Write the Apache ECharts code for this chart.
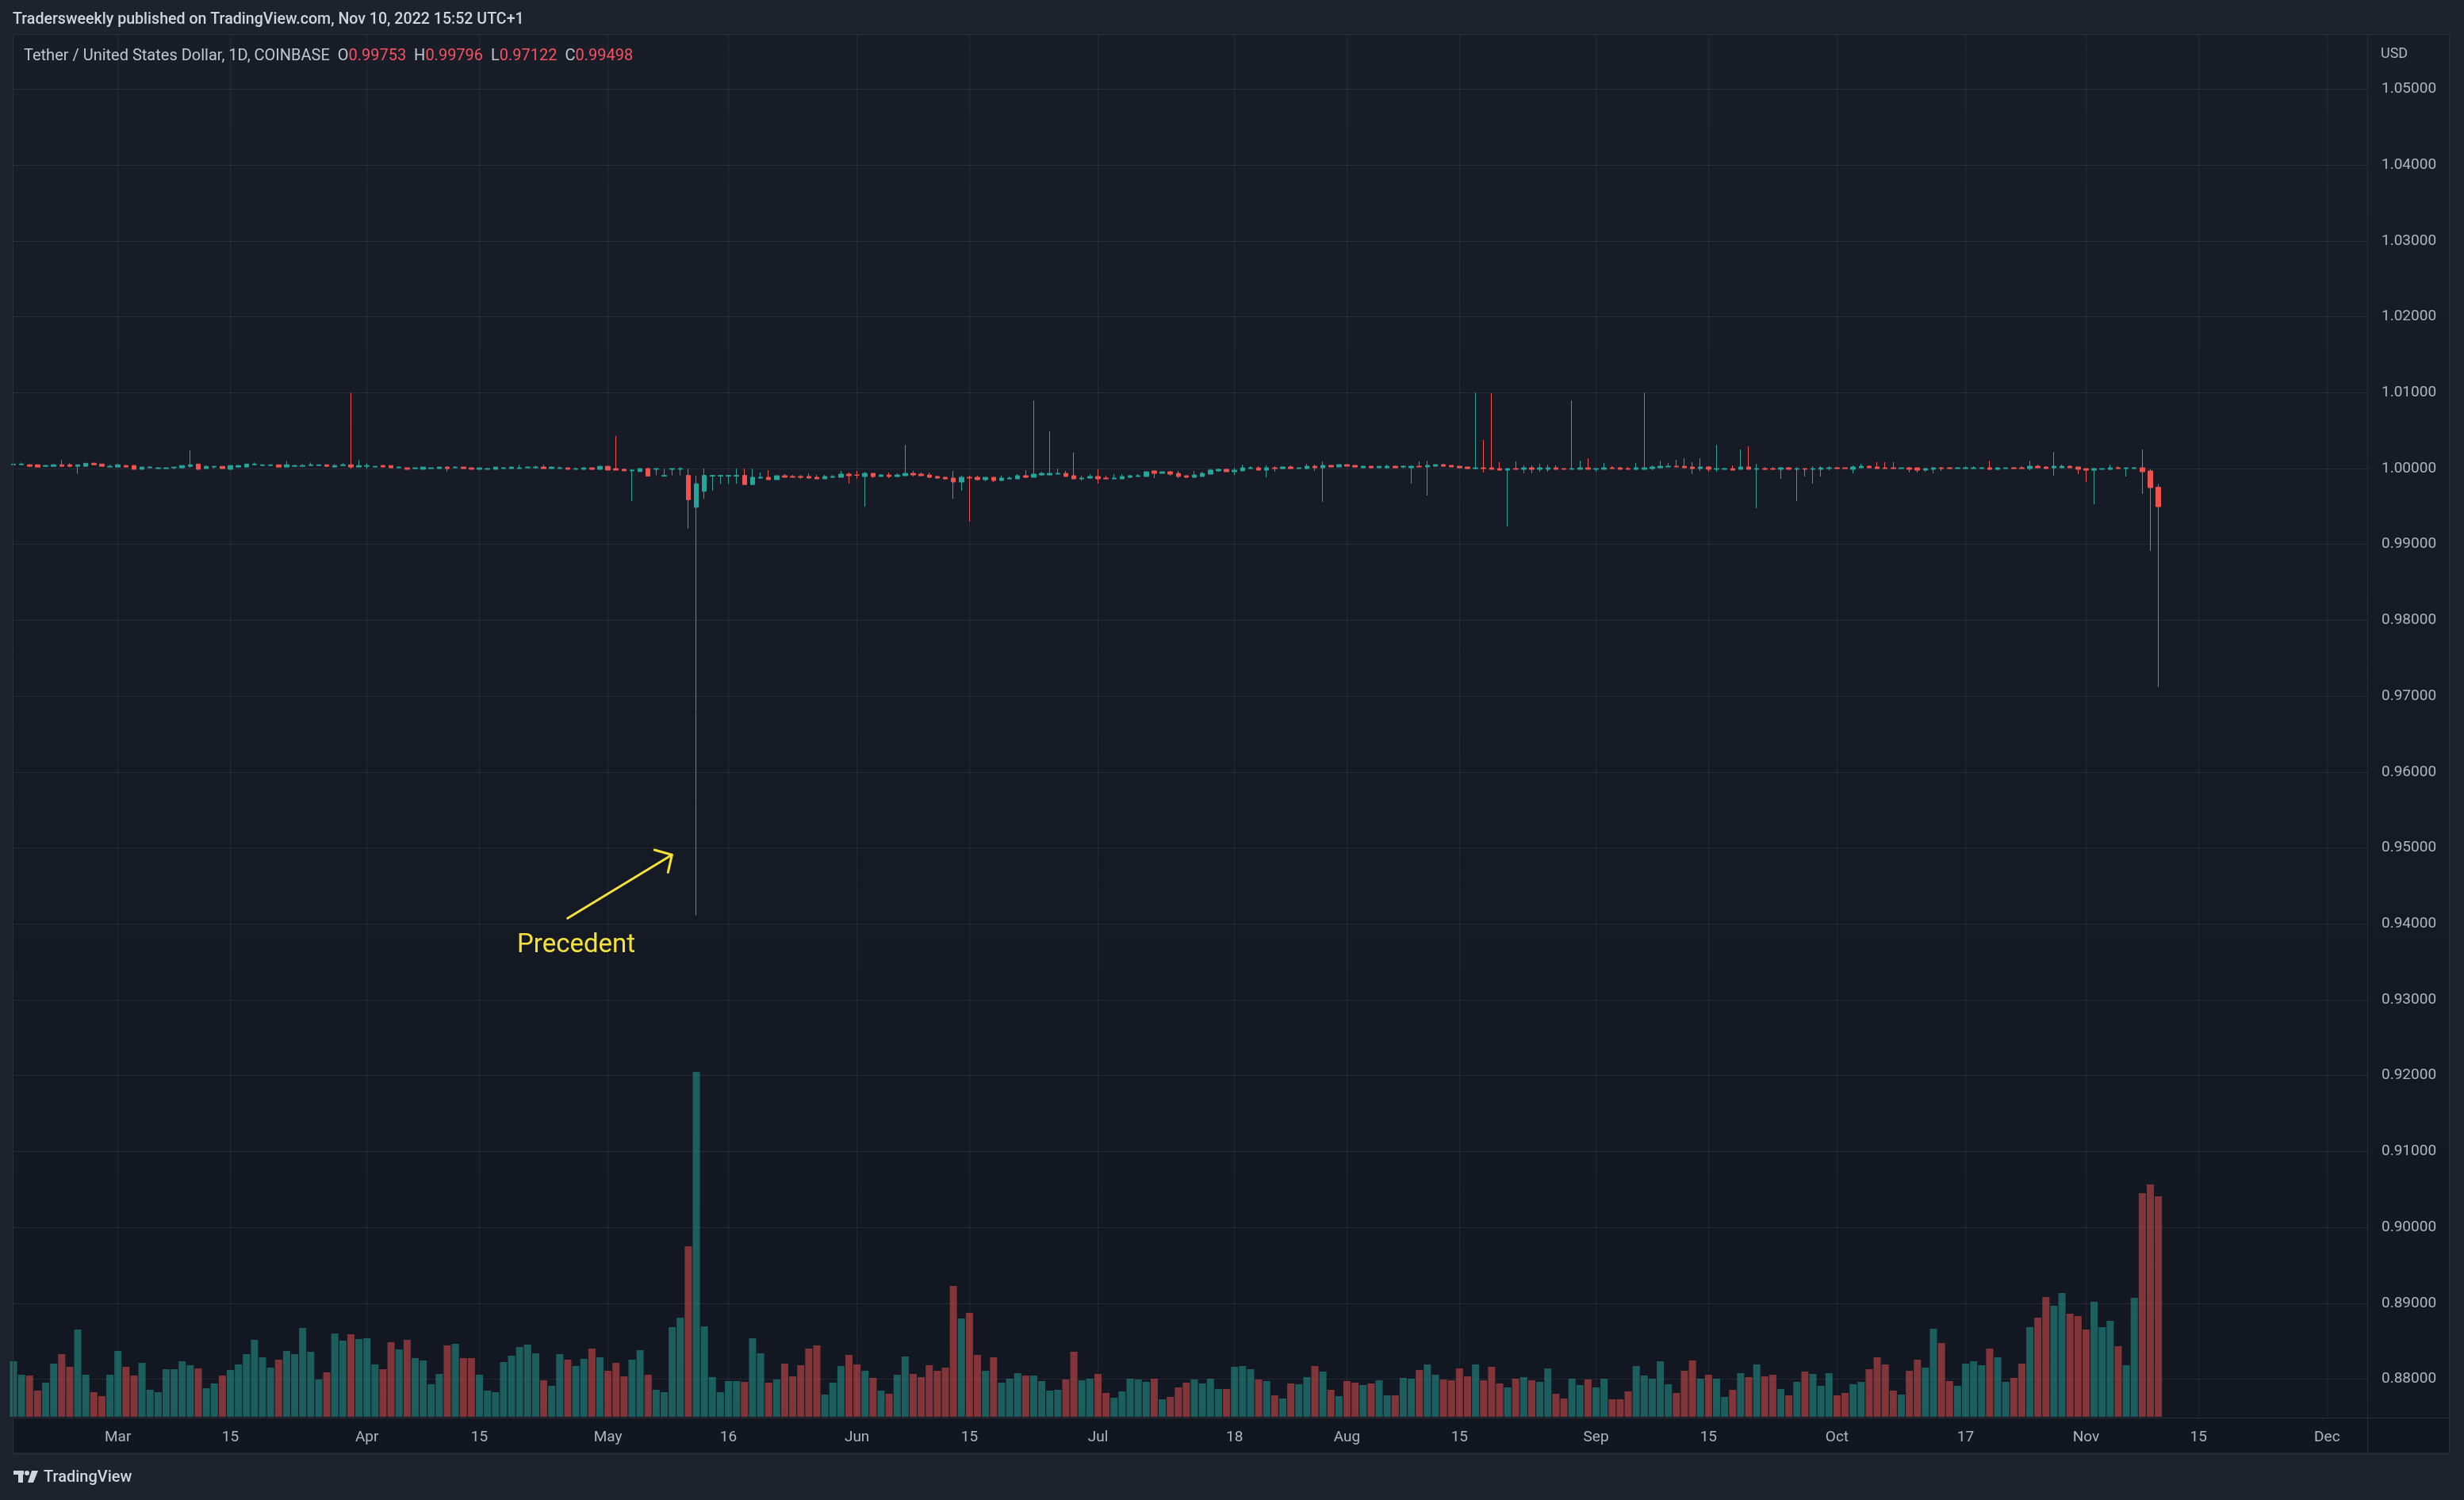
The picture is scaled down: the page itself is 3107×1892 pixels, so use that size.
<!DOCTYPE html>
<html><head><meta charset="utf-8">
<script src="https://cdn.jsdelivr.net/npm/echarts@6/dist/echarts.min.js"></script>
<style>html,body{margin:0;padding:0;background:#1e222d;overflow:hidden}#c{width:3107px;height:1892px}</style>
</head><body><div id="c"></div>
<script>
// ---------- DATA (USDT/USD, 1D, Coinbase, Feb 16 – Nov 10 2022) ----------
const firstDay = '2022-02-16';
const axisDays = 294; // axis runs to Dec 6 (empty right margin)

const open = [
 1.0005,1.0005,1.0005,1.0005,1.0003,1.0003,1.0005,1.0005,1.0003,1.0003,1.0007,1.0006,1.0002,
 1.0002,1.0004,1.0004,0.9999,1.0001,1.0000,1.0000,1.0001,1.0001,1.0003,1.0006,1.0000,1.0002,1.0003,0.9999,1.0002,1.0002,1.0005,1.0004,1.0004,1.0005,1.0002,1.0003,1.0003,1.0004,1.0004,1.0005,1.0002,1.0004,1.0005,1.0002,
 1.0003,1.0002,1.0004,1.0004,1.0001,1.0001,1.0000,0.9999,1.0000,1.0000,1.0002,1.0001,1.0002,1.0001,0.9999,0.9999,0.9999,1.0000,1.0000,1.0000,1.0001,1.0001,1.0002,1.0000,1.0000,1.0001,0.9999,0.9999,1.0001,0.9999,
 1.0003,1.0000,0.9999,0.9997,0.9996,1.0000,0.9999,0.9990,0.9999,0.9999,0.9991,0.9949,0.9970,0.9990,0.9990,0.9990,0.9990,0.9991,0.9979,0.99875,0.99885,0.99854,0.99906,0.99896,0.99896,0.99896,0.99885,0.99864,0.99885,0.99885,0.99927,
 0.99916,0.99896,0.99937,0.99896,0.99916,0.99896,0.99906,0.99937,0.99927,0.99916,0.99896,0.99885,0.99875,0.99823,0.99885,0.99885,0.99854,0.99885,0.99843,0.99864,0.99864,0.99906,0.99885,0.99916,0.99916,0.99927,0.99937,0.99906,0.99864,0.99875,
 0.99896,0.99875,0.99864,0.99864,0.99885,0.99896,0.99896,0.99969,0.99937,0.99958,0.99937,0.99906,0.99885,0.99896,0.99927,0.99969,0.9999,0.99958,0.99969,1.0000,1.0001,0.99979,1.0001,1.0000,1.00021,1.0000,1.0000,1.00031,1.0001,1.00042,1.00021,
 1.00052,1.00042,1.0001,1.00031,1.0001,1.0001,1.00031,1.00021,1.0001,1.00031,1.00021,1.00031,1.00052,1.00042,1.00031,1.00021,1.0000,1.0001,1.0001,1.0000,0.99979,1.0000,0.9999,1.0001,0.9999,0.9999,1.0001,1.0000,0.9999,0.9999,1.0001,
 0.9999,0.9999,1.0001,1.0001,1.0000,0.9999,0.9999,1.0000,1.0001,1.00021,1.00031,1.00031,1.00021,1.0000,1.00021,0.9999,0.9999,1.0000,0.9999,1.00021,0.9999,1.0000,1.0000,0.9999,1.0001,0.9999,1.0000,0.9999,0.9999,1.0000,
 1.0001,1.0001,0.9999,1.0001,1.00031,1.00021,1.0001,1.0001,1.0000,1.0001,1.0001,0.99979,0.9999,1.0001,1.0001,1.0000,1.0000,1.0000,1.0000,1.0001,0.9999,1.0000,1.0001,1.0001,1.0000,1.00031,1.00021,1.0001,1.0001,1.00031,1.00021,
 1.0000,0.99979,0.9999,0.9999,1.0001,1.0000,1.0000,1.0001,0.99969,0.99753
];
const high = [
 1.0006,1.0008,1.0006,1.0005,1.0005,1.0006,1.0011,1.0007,1.0005,1.0007,1.0008,1.0006,1.0005,
 1.0006,1.0005,1.0005,1.0002,1.0003,1.0002,1.0001,1.0002,1.0004,1.0024,1.0006,1.0004,1.0003,1.0003,1.0004,1.0005,1.0006,1.0008,1.0005,1.0005,1.0005,1.0010,1.0005,1.0006,1.0008,1.0005,1.0005,1.0006,1.0007,1.0100,1.0011,
 1.0007,1.0003,1.0005,1.0004,1.0003,1.0001,1.0001,1.0002,1.0001,1.0002,1.0003,1.0003,1.0002,1.0001,1.0001,1.0001,1.0002,1.0002,1.0002,1.0005,1.0003,1.0004,1.0005,1.0003,1.0003,1.0001,1.0001,1.0001,1.0001,1.0004,
 1.0004,1.0043,1.0000,0.9999,1.0000,1.0001,1.0000,1.0000,1.0000,1.0002,1.0000,0.9991,1.0000,0.9991,0.9991,0.9991,1.0000,1.0000,1.0000,0.99948,0.99979,0.99906,0.99927,0.99916,0.99916,0.99937,0.99916,0.99916,0.99916,0.99969,0.99948,
 0.99969,0.99958,0.99937,0.99927,0.99948,0.99937,1.00313,0.99969,0.99948,0.99948,0.99906,0.99896,0.99969,0.99906,0.99906,0.99906,0.99885,0.99885,0.99906,0.99896,0.99927,0.99979,1.00898,0.99958,1.00491,1.0000,0.99969,1.00209,0.99906,0.99927,
 0.9999,0.99906,0.99927,0.99927,0.99916,0.99927,0.99958,0.99969,0.99958,0.99969,0.99969,0.99906,0.99969,0.99958,1.0000,1.0000,1.0000,1.0001,1.00052,1.00031,1.00031,1.00042,1.00031,1.00031,1.00042,1.0001,1.00063,1.00052,1.00094,1.00042,1.00052,
 1.00052,1.00042,1.00042,1.00031,1.00031,1.00052,1.00042,1.00042,1.00042,1.00094,1.00104,1.00052,1.00063,1.00042,1.00031,1.00021,1.01002,1.00376,1.00992,1.00084,1.0000,1.00094,1.00042,1.00042,1.00063,1.00052,1.00042,1.0000,1.00898,1.00104,1.00136,
 1.0000,1.00073,1.00031,1.00021,1.00021,1.00073,1.01002,1.00042,1.00104,1.00073,1.00115,1.00136,1.00084,1.00136,1.00031,1.00313,1.0001,1.00042,1.00251,1.00292,1.00063,1.00021,1.00021,1.00021,1.00021,1.00021,1.0000,1.00031,1.00031,1.00031,
 1.00021,1.0001,1.00042,1.00063,1.00042,1.00084,1.00084,1.00084,1.0001,1.00021,1.0001,1.0001,1.00021,1.00021,1.00021,1.00021,1.00031,1.00031,1.00021,1.00104,1.00021,1.0001,1.00021,1.00031,1.00104,1.00052,1.00031,1.00219,1.00052,1.00042,1.00021,
 1.0000,1.0001,1.0000,1.00052,1.00031,1.0001,1.00021,1.00251,0.9999,0.99796
];
const low = [
 1.0005,1.0005,1.0002,1.0002,1.0002,1.0003,1.0003,1.0002,0.9993,1.0003,1.0005,1.0003,1.0002,
 1.0002,1.0002,0.9999,0.9999,1.0001,1.0000,1.0000,0.9999,1.0001,1.0001,0.9999,1.0000,1.0000,1.0000,0.9999,1.0001,1.0002,1.0004,1.0004,1.0004,1.0002,1.0002,1.0002,1.0003,1.0004,1.0004,1.0002,1.0002,1.0003,1.0000,1.0002,
 1.0000,1.0002,1.0002,1.0001,1.0001,0.9999,0.9999,0.9999,1.0000,1.0000,0.9996,1.0001,1.0000,0.9999,0.9999,0.9999,0.9999,1.0000,1.0000,1.0000,1.0001,1.0000,1.0000,1.0000,1.0000,0.9999,0.9999,0.9999,0.9998,0.9999,
 0.9998,0.9998,0.9997,0.99575,0.9996,0.9990,0.9991,0.9990,0.9991,0.9991,0.9921,0.9411,0.9960,0.9971,0.9980,0.9980,0.9980,0.9979,0.9979,0.99864,0.99854,0.99854,0.99885,0.99885,0.99864,0.99864,0.99864,0.99864,0.99875,0.99885,0.99802,
 0.99864,0.99499,0.99875,0.99896,0.99875,0.99885,0.99906,0.99896,0.99906,0.99875,0.99864,0.99854,0.99603,0.99708,0.993,0.99843,0.99833,0.99823,0.99833,0.99864,0.99864,0.99875,0.99885,0.99906,0.99916,0.99927,0.99896,0.99864,0.99843,0.99864,
 0.99802,0.99864,0.99864,0.99864,0.99875,0.99896,0.99896,0.99875,0.99937,0.99906,0.99875,0.99875,0.99875,0.99896,0.99927,0.99958,0.99958,0.99916,0.99969,1.0000,0.99979,0.99885,0.99958,0.9999,1.0000,1.0000,0.9999,0.99969,0.99562,1.00021,1.00021,
 1.00031,1.0001,1.0001,1.0000,1.0001,1.0000,1.0001,1.0000,0.99802,1.00021,0.99645,1.00031,1.00031,1.00021,1.0001,0.9999,0.9999,0.99948,0.9999,0.99979,0.99238,0.9999,0.99937,0.99937,0.99958,0.99958,0.9999,0.9999,0.9999,0.9999,0.9999,
 0.99958,0.9999,1.0000,0.9999,0.9999,0.99979,0.9999,0.99979,1.0001,1.00021,1.00021,1.0001,0.99927,0.99969,0.99958,0.99958,0.9999,0.99979,0.9999,0.9999,0.99478,0.99979,0.9999,0.99864,0.9999,0.99572,0.99896,0.99802,0.99896,0.99979,
 1.0000,1.0000,0.99937,1.0001,1.0001,1.0000,1.0000,1.0000,1.0000,0.99948,0.99948,0.99958,0.99937,0.99969,1.0000,1.0000,1.0000,1.0000,1.0000,0.99979,0.99979,1.0000,1.0000,1.0000,0.99979,1.0001,1.0000,0.99906,1.0001,1.0001,0.99927,
 0.99823,0.9953,0.9999,0.99979,1.0000,0.99896,1.0000,0.99666,0.98913,0.97122
];
const close = [
 1.0006,1.0006,1.0003,1.0002,1.0004,1.0005,1.0003,1.0003,1.0005,1.0007,1.0005,1.0003,1.0003,
 1.0005,1.0002,0.9999,1.0002,1.0002,1.0001,1.0001,1.0002,1.0004,1.0005,0.9999,1.0003,1.0003,1.0000,1.0004,1.0004,1.0006,1.0006,1.0005,1.0005,1.0002,1.0005,1.0004,1.0004,1.0005,1.0005,1.0003,1.0004,1.0005,1.0002,1.0004,
 1.0004,1.0003,1.0002,1.0001,1.0002,0.9999,1.0001,1.0002,1.0001,1.0002,1.0000,1.0002,1.0000,0.9999,1.0001,1.0000,1.0002,1.0001,1.0002,1.0001,1.0002,1.0002,1.0000,1.0002,1.0001,0.9999,1.0000,1.0001,0.9999,1.0003,
 0.9998,0.9998,0.9997,0.9998,1.0000,0.9990,1.0000,0.9991,1.0000,1.0000,0.9959,0.9980,0.9991,0.9991,0.9991,0.9991,0.9991,0.9979,0.99885,0.99885,0.99854,0.99906,0.99885,0.99885,0.99885,0.99875,0.99864,0.99896,0.99896,0.99927,0.99906,
 0.99912,0.99937,0.99896,0.99916,0.99896,0.99916,0.99937,0.99916,0.99906,0.99885,0.99875,0.99864,0.99823,0.99885,0.99875,0.99854,0.99885,0.99843,0.99875,0.99875,0.99906,0.99885,0.99927,0.99937,0.99937,0.99937,0.99896,0.99864,0.99875,0.99896,
 0.99864,0.99864,0.99875,0.99896,0.99906,0.99906,0.99958,0.99937,0.99958,0.99927,0.99896,0.99885,0.99916,0.99937,0.99979,0.9999,0.99958,0.99979,1.0001,1.0001,0.99979,1.0001,1.0000,1.00021,1.0000,1.0001,1.00031,1.0001,1.00042,1.00021,1.00052,
 1.00031,1.00021,1.00031,1.0001,1.00031,1.00031,1.0001,1.00031,1.00031,1.00021,1.00042,1.00052,1.00031,1.00021,1.0001,1.0000,1.0001,1.0000,0.9999,0.99979,1.0000,0.9999,1.0001,0.9999,1.0001,1.0001,0.9999,0.9999,1.0000,1.0001,0.9999,
 1.0000,1.0001,1.0000,0.9999,0.9999,1.0001,1.0001,1.00021,1.00031,1.00031,1.00021,1.0001,1.0000,1.00021,0.9999,1.0000,1.0000,0.99979,1.00021,0.9999,1.0000,0.9999,0.9999,1.0001,0.9999,1.0000,0.9999,1.0000,1.0001,1.0001,
 1.0000,1.0000,1.00021,1.00031,1.0001,1.0000,1.0000,1.0000,1.0001,0.9999,0.99979,1.0000,1.0001,1.0000,1.0000,1.0001,1.0001,1.0001,1.0001,0.9999,1.0001,1.0001,1.0000,1.0000,1.00031,1.0001,1.0000,1.00031,1.00031,1.0001,0.9999,
 0.99979,1.0000,1.0000,1.0001,1.0000,1.0001,1.0001,0.99958,0.99749,0.99498
];
const volume = [
 70,53,52,33,43,67,79,63,110,53,31,26,53,
 83,63,52,68,34,31,60,60,70,65,61,36,42,52,59,66,79,97,75,62,72,83,79,112,82,47,56,105,96,104,98,
 99,66,60,94,85,97,74,71,41,54,90,92,74,74,53,33,31,69,77,88,91,80,46,39,79,72,64,73,86,75,
 58,68,51,72,84,53,34,31,113,125,215,435,114,50,31,45,45,44,99,80,43,47,67,51,65,86,90,28,43,64,78,
 66,58,49,33,29,53,76,54,50,65,58,62,165,124,131,78,58,75,43,48,55,52,52,45,33,34,47,82,46,48,
 54,30,24,32,48,47,44,48,22,25,37,43,47,42,48,35,35,63,64,60,47,45,27,23,42,41,50,64,57,34,26,
 45,43,40,42,46,27,27,49,48,59,66,53,47,46,61,51,66,46,63,42,37,48,50,46,44,61,29,23,48,40,47,
 37,48,22,22,32,64,52,48,70,41,30,58,71,48,53,48,25,34,55,50,66,51,53,35,27,44,57,54,39,55,
 27,30,41,44,60,75,66,33,28,58,72,62,111,93,45,39,67,70,65,86,75,44,49,67,113,125,151,140,156,130,127,
 110,145,113,121,89,65,150,282,293,278
];
const tickDates = ['2022-03-01','2022-03-15','2022-04-01','2022-04-15','2022-05-01','2022-05-16','2022-06-01','2022-06-15','2022-07-01','2022-07-18','2022-08-01','2022-08-15','2022-09-01','2022-09-15','2022-10-01','2022-10-17','2022-11-01','2022-11-15','2022-12-01'];
const tickTexts = ['Mar','15','Apr','15','May','16','Jun','15','Jul','18','Aug','15','Sep','15','Oct','17','Nov','15','Dec'];
const priceMin = 0.87, priceMax = 1.06, priceStep = 0.01;

// ---------- BUILD ----------
const dates = [];
{
  const p = firstDay.split('-').map(Number);
  for (let i = 0; i < axisDays; i++) dates.push(new Date(Date.UTC(p[0], p[1] - 1, p[2] + i)).toISOString().slice(0, 10));
}
const tickMap = {};
tickDates.forEach((d, i) => tickMap[d] = tickTexts[i]);

const UP = '#26a69a', DOWN = '#ef5350';
const UPV = 'rgba(38,166,154,0.5)', DOWNV = 'rgba(239,83,80,0.5)';
const candles = open.map((o, i) => [o, close[i], low[i], high[i]]);
const volData = volume.map((v, i) => ({ value: v, itemStyle: { color: close[i] >= open[i] ? UPV : DOWNV } }));

const L = open.length - 1;
const f5 = v => v.toFixed(5);
const FONT = 'Roboto, "Noto Sans", sans-serif';
const BORDER = '#2a2e39';
const GRID = 'rgba(240,243,250,0.07)';

const chart = echarts.init(document.getElementById('c'), null, { renderer: 'canvas', width: 3107, height: 1892 });
chart.setOption({
  animation: false,
  backgroundColor: '#1e222d',
  textStyle: { fontFamily: FONT },
  grid: [
    { left: 17, right: 122, top: 16.8, bottom: 56.8, outerBoundsMode: 'none' },
    { left: 17, right: 122, top: 44, bottom: 105, outerBoundsMode: 'none' }
  ],
  xAxis: [
    { gridIndex: 0, type: 'category', data: dates, boundaryGap: false, show: false },
    { gridIndex: 1, type: 'category', data: dates, boundaryGap: false,
      axisLine: { show: false }, axisTick: { show: false },
      axisLabel: { interval: (i, v) => v in tickMap, formatter: v => tickMap[v] || '',
        color: '#b2b5be', fontSize: 19, fontFamily: FONT, margin: 17 },
      splitLine: { show: true, interval: (i, v) => v in tickMap, lineStyle: { color: GRID, width: 1 } } }
  ],
  yAxis: [
    { gridIndex: 0, type: 'value', position: 'right', min: priceMin, max: priceMax, interval: priceStep,
      axisLine: { show: false }, axisTick: { show: false },
      axisLabel: { color: '#b2b5be', fontSize: 19, fontFamily: FONT, margin: 18, showMinLabel: false, showMaxLabel: false,
        formatter: v => (v < 0.875 || v > 1.055) ? '' : f5(v) },
      splitLine: { show: true, showMinLine: false, showMaxLine: false, lineStyle: { color: GRID, width: 1 } } },
    { gridIndex: 1, type: 'value', min: 0, max: Math.max(...volume) * 4.007, show: false, splitLine: { show: false } }
  ],
  series: [
    { type: 'bar', xAxisIndex: 1, yAxisIndex: 1, data: volData, barWidth: 9, z: 1, silent: true },
    { type: 'candlestick', xAxisIndex: 0, yAxisIndex: 0, data: candles, barWidth: 6, z: 3, silent: true,
      itemStyle: { color: UP, color0: DOWN, borderColor: UP, borderColor0: DOWN, borderWidth: 1 } }
  ],
  graphic: [
    { type: 'rect', z: -100, silent: true, shape: { x: 17, y: 44, width: 3071, height: 1789 },
      style: { fill: { type: 'linear', x: 0, y: 0, x2: 0, y2: 1, colorStops: [{ offset: 0, color: '#191d28' }, { offset: 1, color: '#131722' }] } } },
    { type: 'rect', z: -99, silent: true, shape: { x: 17, y: 1788, width: 3071, height: 45 }, style: { fill: '#12161f' } },
    // frame lines
    { type: 'line', z: 50, silent: true, shape: { x1: 17, y1: 43.5, x2: 3089, y2: 43.5 }, style: { stroke: BORDER, lineWidth: 1 } },
    { type: 'line', z: 50, silent: true, shape: { x1: 17, y1: 1833.5, x2: 3089, y2: 1833.5 }, style: { stroke: BORDER, lineWidth: 2 } },
    { type: 'line', z: 50, silent: true, shape: { x1: 16.5, y1: 44, x2: 16.5, y2: 1834 }, style: { stroke: BORDER, lineWidth: 1 } },
    { type: 'line', z: 50, silent: true, shape: { x1: 3088.5, y1: 44, x2: 3088.5, y2: 1834 }, style: { stroke: BORDER, lineWidth: 1 } },
    { type: 'line', z: 50, silent: true, shape: { x1: 2985.5, y1: 44, x2: 2985.5, y2: 1834 }, style: { stroke: BORDER, lineWidth: 1 } },
    { type: 'line', z: 50, silent: true, shape: { x1: 17, y1: 1788.5, x2: 3089, y2: 1788.5 }, style: { stroke: BORDER, lineWidth: 1 } },
    // header
    { type: 'text', z: 60, silent: true, x: 16, y: 25,
      style: { text: 'Tradersweekly published on TradingView.com, Nov 10, 2022 15:52 UTC+1', fill: '#d1d4dc',
        fontSize: 19.6, fontFamily: FONT, fontWeight: 500, verticalAlign: 'middle' } },
    { type: 'text', z: 60, silent: true, x: 30, y: 71,
      style: { text: '{t|Tether / United States Dollar, 1D, COINBASE}  {t|O}{r|' + f5(open[L]) + '}  {t|H}{r|' + f5(high[L]) + '}  {t|L}{r|' + f5(low[L]) + '}  {t|C}{r|' + f5(close[L]) + '}',
        verticalAlign: 'middle', fontSize: 20, fontFamily: FONT,
        rich: { t: { fill: '#c3c6ce', fontSize: 20, fontFamily: FONT }, r: { fill: '#f7525f', fontSize: 20, fontFamily: FONT } } } },
    { type: 'text', z: 60, silent: true, x: 3002, y: 68,
      style: { text: 'USD', fill: '#b2b5be', fontSize: 18, fontFamily: FONT, verticalAlign: 'middle' } },
    // annotation
    { type: 'polyline', z: 60, silent: true, shape: { points: [[715.7, 1158.3], [847.3, 1078.3]] },
      style: { stroke: '#f5e13a', lineWidth: 3, lineCap: 'round' } },
    { type: 'polyline', z: 60, silent: true, shape: { points: [[825.3, 1072], [847.3, 1078.3], [842.3, 1100.3]] },
      style: { stroke: '#f5e13a', lineWidth: 3, lineCap: 'round', lineJoin: 'round', fill: null } },
    { type: 'text', z: 60, silent: true, x: 652, y: 1193,
      style: { text: 'Precedent', fill: '#f5e13a', fontSize: 33, fontFamily: FONT, verticalAlign: 'middle' } },
    // footer logo
    { type: 'rect', z: 60, silent: true, shape: { x: 17, y: 1855, width: 13, height: 5 }, style: { fill: '#d1d4dc' } },
    { type: 'rect', z: 60, silent: true, shape: { x: 23, y: 1855, width: 6, height: 15 }, style: { fill: '#d1d4dc' } },
    { type: 'circle', z: 60, silent: true, shape: { cx: 34, cy: 1858, r: 3 }, style: { fill: '#d1d4dc' } },
    { type: 'polygon', z: 60, silent: true, shape: { points: [[40, 1855], [48, 1855], [42, 1870], [35, 1870]] }, style: { fill: '#d1d4dc' } },
    { type: 'text', z: 60, silent: true, x: 55, y: 1864,
      style: { text: 'TradingView', fill: '#d1d4dc', fontSize: 20, fontFamily: FONT, fontWeight: 500, verticalAlign: 'middle' } }
  ]
});
</script>
</body></html>
